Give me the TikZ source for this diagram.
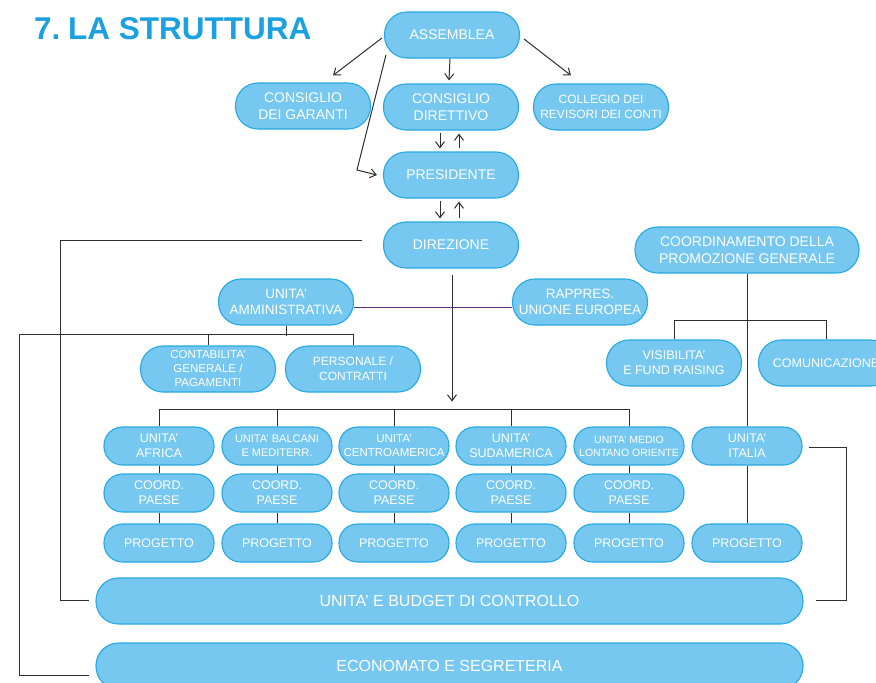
\documentclass[tikz,border=0pt]{standalone}
\usepackage{fontspec}
\setmainfont{Liberation Sans}
\usetikzlibrary{arrows.meta,calc}
\definecolor{boxfill}{HTML}{76C8F1}
\definecolor{boxline}{HTML}{25A9E2}
\definecolor{titleblue}{HTML}{1BA0E0}
\definecolor{linegray}{HTML}{2E2E2E}
\definecolor{purpleline}{HTML}{5A2D85}
\newcommand{\fs}[2]{\fontsize{#1}{#2}\selectfont}
\tikzset{
  box/.style={draw=boxline, fill=boxfill, line width=1.1pt, text=white,
    align=center, inner sep=0pt, minimum width=135pt, minimum height=46pt,
    rounded corners=22.5pt},
  small/.style={box, minimum width=110pt, minimum height=38pt, rounded corners=18.5pt},
  wide/.style={box, minimum width=707pt},
  conn/.style={draw=linegray, line width=1pt},
  arr/.style={conn, -{Straight Barb[length=6pt,width=9pt,line width=1pt]}},
}
\begin{document}
\begin{tikzpicture}[x=1pt,y=-1pt]
\useasboundingbox (0,0) rectangle (876,683);
\node[anchor=base west, text=titleblue, inner sep=0pt, font=\fs{31.5}{36}\bfseries] (title) at (34,39) {7.\kern-1pt\ LA STRUTTURA};

% top part
\node[box, font=\fs{14}{16.5}] (ass) at (452,35) {ASSEMBLEA};
\node[box, font=\fs{14}{16.5}] (cg) at (303,106) {CONSIGLIO\\DEI GARANTI};
\node[box, font=\fs{14}{16.5}] (cd) at (451,107) {CONSIGLIO\\DIRETTIVO};
\node[box, font=\fs{12}{15}] (col) at (601,107) {COLLEGIO DEI\\REVISORI DEI CONTI};
\node[box, font=\fs{14}{16.5}] (pres) at (451,175) {PRESIDENTE};
\node[box, font=\fs{14}{16.5}] (dir) at (451,245) {DIREZIONE};
\node[box, font=\fs{13.5}{16}] (ua) at (286,302) {UNITA'\\AMMINISTRATIVA};
\node[box, font=\fs{13.5}{16}] (rap) at (580,302) {RAPPRES.\\UNIONE EUROPEA};
\node[box, minimum width=224pt, font=\fs{14}{16.5}] (cp) at (747,250) {COORDINAMENTO DELLA\\PROMOZIONE GENERALE};
\node[box, font=\fs{11.5}{14}] (cont) at (208,369) {CONTABILITA'\\GENERALE /\\PAGAMENTI};
\node[box, font=\fs{12}{15}] (pers) at (353,369) {PERSONALE /\\CONTRATTI};
\node[box, font=\fs{12.5}{15}] (vis) at (674,363) {VISIBILITA'\\E FUND RAISING};
\node[box, font=\fs{12.5}{15}] (com) at (826,363) {COMUNICAZIONE};

% units row
\node[small, font=\fs{12.5}{15}] (u1) at (159,446) {UNITA'\\AFRICA};
\node[small, font=\fs{11}{14}] (u2) at (277,446) {UNITA' BALCANI\\E MEDITERR.};
\node[small, font=\fs{11.5}{14}] (u3) at (394,446) {UNITA'\\CENTROAMERICA};
\node[small, font=\fs{12.5}{15}] (u4) at (511,446) {UNITA'\\SUDAMERICA};
\node[small, font=\fs{10.5}{13}] (u5) at (629,446) {UNITA' MEDIO\\LONTANO ORIENTE};
\node[small, font=\fs{12.5}{15}] (u6) at (747,446) {UNITA'\\ITALIA};

\foreach \i/\x in {1/159,2/277,3/394,4/511,5/629}{
  \node[small, font=\fs{12.5}{15}] (c\i) at (\x,493) {COORD.\\PAESE};
}
\foreach \i/\x in {1/159,2/277,3/394,4/511,5/629,6/747}{
  \node[small, font=\fs{12.5}{15}] (p\i) at (\x,543) {PROGETTO};
}

\node[wide, font=\fs{16}{18}] (bud) at (449.5,601) {UNITA' E BUDGET DI CONTROLLO};
\node[wide, font=\fs{16}{18}] (eco) at (449.5,666) {ECONOMATO E SEGRETERIA};

% arrows from ASSEMBLEA
\draw[arr] ($(ass.west)+(-2,3)$) -- ($(cg.north)+(30,-7)$);
\draw[arr] ($(ass.south)+(-2,0)$) -- ($(cd.north)+(-2,-3)$);
\draw[arr] ($(ass.east)+(4,4)$) -- ($(col.north)+(-30,-8)$);
\draw[arr] ($(ass.west)+(2,20)$) -- ($(pres.west)+(-26,-5)$) -- ($(pres.west)+(-6,0)$);

% double arrows
\draw[arr] ($(cd.south)+(-11,2)$) -- ($(pres.north)+(-11,-3)$);
\draw[arr] ($(pres.north)+(8,-3)$) -- ($(cd.south)+(8,3)$);
\draw[arr] ($(pres.south)+(-11,2)$) -- ($(dir.north)+(-11,-3)$);
\draw[arr] ($(dir.north)+(8,-3)$) -- ($(pres.south)+(8,3)$);

% DIREZIONE to budget (left)
\draw[conn] ($(dir.west)+(-21,-5)$) -| ($(bud.west)+(-35,-1)$) -- ($(bud.west)+(-6,-1)$);
% DIREZIONE down
\draw[arr] ($(dir.south)+(1,6)$) -- ($(dir.south)+(1,133)$);
% bar over units
\draw[conn] (u1.north) -- ++(0,-17) -| (u5.north);
\foreach \i in {2,3,4}{ \draw[conn] (u\i.north) -- ++(0,-17); }
\foreach \i in {1,...,5}{
  \draw[conn] (u\i.south) -- (c\i.north);
  \draw[conn] (c\i.south) -- (p\i.north);
}
\draw[conn] (u6.south) -- (p6.north);

% UNITA' AMMINISTRATIVA
\draw[purpleline, line width=1pt] ($(ua.east)+(0,5)$) -- ($(rap.west)+(0,5)$);
\draw[conn] (ua.south) -- ++(0,10);
\draw[conn] (cont.north) -- ++(0,-11);
\draw[conn] (pers.north) -- ++(0,-11) -| ($(eco.west)+(-76,9)$) -- ($(eco.west)+(-6,9)$);

% COORDINAMENTO
\draw[conn] (cp.south) -- (u6.north);
\draw[conn] (vis.north) -- ++(0,-19) -| (com.north);

% ITALIA to budget (right)
\draw[conn] ($(u6.east)+(6,1)$) -| ($(bud.east)+(43,-1)$) -- ($(bud.east)+(12,-1)$);
\end{tikzpicture}
\end{document}
